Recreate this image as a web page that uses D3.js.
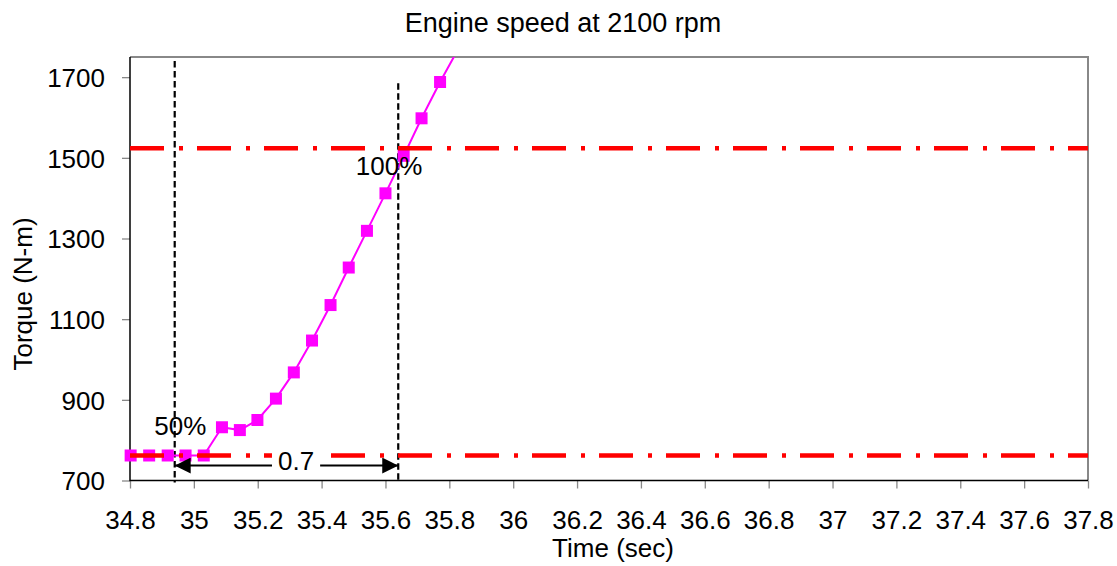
<!DOCTYPE html>
<html>
<head>
<meta charset="utf-8">
<script src="https://cdn.jsdelivr.net/npm/d3@7"></script>
<style>
  body { margin: 0; background: #fff; }
  svg text { font-family: Arial, "Liberation Sans", sans-serif; fill: #000; }
</style>
</head>
<body>
<svg id="chart" width="1117" height="566"></svg>
<script>
// Measured torque response after the step, sampled every ~0.057 s
const time = [34.802, 34.860, 34.918, 34.974, 35.031, 35.088, 35.144, 35.199, 35.257,
              35.313, 35.370, 35.428, 35.485, 35.542, 35.600, 35.657, 35.713, 35.771, 35.828];
const torque = [762, 762, 762, 762, 762, 832, 825, 850, 903,
                968, 1047, 1135, 1228, 1319, 1412, 1505, 1598, 1688, 1770];

// Axis ticks
const xTickValues = [34.8, 35, 35.2, 35.4, 35.6, 35.8, 36, 36.2, 36.4, 36.6, 36.8, 37, 37.2, 37.4, 37.6, 37.8];
const yTickValues = [700, 900, 1100, 1300, 1500, 1700];

// Reference torque levels (50 % and 100 %) and the times each is reached
const levelTorque = [762, 1524];
const levelNames = ["50%", "100%"];
const crossTime = [34.94, 35.64];
const crossTop = [1740, 1685];      // upper end of each vertical marker
const crossBottom = 695;            // lower end, just under the axis
const spanLabel = "0.7";
const spanTorque = 737;             // height of the double arrow
const spanLabelTime = 35.32;
const spanLabelTorque = 725;
const levelLabelPos = [[34.876, 813], [35.507, 1458]];

const title = "Engine speed at 2100 rpm";
const xTitle = "Time (sec)";
const yTitle = "Torque (N-m)";

const svg = d3.select("#chart");
const plot = { left: 130, right: 1088, top: 57, bottom: 480.5 };

const x = d3.scaleLinear().domain([34.8, 37.8]).range([plot.left, plot.right]);
const y = d3.scaleLinear().domain([700, 1750]).range([plot.bottom, plot.top]);

const FS = 26;

svg.append("defs").append("clipPath").attr("id", "plotClip")
  .append("rect")
  .attr("x", plot.left).attr("y", plot.top)
  .attr("width", plot.right - plot.left).attr("height", plot.bottom - plot.top);

// Title
svg.append("text")
  .attr("x", 563).attr("y", 31.5)
  .attr("text-anchor", "middle")
  .style("font-size", "27px")
  .text(title);

// Top and right frame
svg.append("path")
  .attr("d", `M${plot.left},${plot.top}H${plot.right}V${plot.bottom}`)
  .attr("fill", "none").attr("stroke", "#888").attr("stroke-width", 2);

// Y axis
const yAxis = svg.append("g")
  .attr("transform", `translate(${plot.left},0)`)
  .call(d3.axisLeft(y).tickValues(yTickValues).tickSize(8).tickPadding(17).tickFormat(d3.format("d")));
yAxis.select(".domain").remove();
yAxis.selectAll(".tick line").attr("stroke", "#888").attr("stroke-width", 1.3);
yAxis.selectAll("text").style("font-size", FS + "px").style("font-family", "Arial, 'Liberation Sans', sans-serif").attr("dy", "0.36em");

// X axis
const xAxis = svg.append("g")
  .attr("transform", `translate(0,${plot.bottom})`)
  .call(d3.axisBottom(x).tickValues(xTickValues).tickSize(8).tickPadding(22).tickFormat(d => String(+d.toFixed(1))));
xAxis.select(".domain").remove();
xAxis.selectAll(".tick line").attr("stroke", "#888").attr("stroke-width", 1.3);
xAxis.selectAll("text").style("font-size", FS + "px").style("font-family", "Arial, 'Liberation Sans', sans-serif");

// Left and bottom axis lines
svg.append("path")
  .attr("d", `M${plot.left},${plot.top}V${plot.bottom}H${plot.right}`)
  .attr("fill", "none").attr("stroke", "#000").attr("stroke-width", 1.5);

// Axis titles
svg.append("text")
  .attr("x", 613).attr("y", 557)
  .attr("text-anchor", "middle")
  .style("font-size", FS + "px")
  .text(xTitle);
svg.append("text")
  .attr("transform", `translate(32,294) rotate(-90)`)
  .attr("text-anchor", "middle")
  .style("font-size", FS + "px")
  .text(yTitle);

// Vertical markers where each level is reached
svg.append("g").selectAll("line")
  .data(crossTime)
  .join("line")
  .attr("x1", d => x(d)).attr("x2", d => x(d))
  .attr("y1", (d, i) => y(crossTop[i]))
  .attr("y2", y(crossBottom))
  .attr("stroke", "#000").attr("stroke-width", 2.2)
  .attr("stroke-dasharray", "6.5,3.5");

// Torque trace
const pts = time.map((t, i) => [t, torque[i]]);
svg.append("path")
  .datum(pts)
  .attr("clip-path", "url(#plotClip)")
  .attr("fill", "none")
  .attr("stroke", "#FF00FF")
  .attr("stroke-width", 2)
  .attr("d", d3.line().x(d => x(d[0])).y(d => y(d[1])));

const ms = 12;
svg.append("g").selectAll("rect")
  .data(pts.filter(d => d[1] <= y.domain()[1]))
  .join("rect")
  .attr("x", d => x(d[0]) - ms / 2)
  .attr("y", d => y(d[1]) - ms / 2)
  .attr("width", ms).attr("height", ms)
  .attr("fill", "#FF00FF");

// Level lines (dash-dot)
svg.append("g").selectAll("line")
  .data(levelTorque)
  .join("line")
  .attr("x1", plot.left).attr("x2", plot.right)
  .attr("y1", d => y(d)).attr("y2", d => y(d))
  .attr("stroke", "#FF0000").attr("stroke-width", 4.5)
  .attr("stroke-dasharray", "34,15,4,14");

// Double arrow spanning the response time
const defs = svg.select("defs");
defs.append("marker")
  .attr("id", "arrowEnd")
  .attr("viewBox", "0 0 16 16")
  .attr("refX", 16).attr("refY", 8)
  .attr("markerWidth", 16).attr("markerHeight", 16)
  .attr("markerUnits", "userSpaceOnUse")
  .attr("orient", "auto-start-reverse")
  .append("path").attr("d", "M0,0L16,8L0,16Z").attr("fill", "#000");

svg.append("line")
  .attr("x1", x(crossTime[0])).attr("x2", x(crossTime[1]))
  .attr("y1", y(spanTorque)).attr("y2", y(spanTorque))
  .attr("stroke", "#000").attr("stroke-width", 2)
  .attr("marker-start", "url(#arrowEnd)")
  .attr("marker-end", "url(#arrowEnd)");

const spanG = svg.append("g");
const spanBg = spanG.append("rect").attr("fill", "#fff");
const spanText = spanG.append("text")
  .attr("x", x(spanLabelTime)).attr("y", y(spanLabelTorque) - 0.5)
  .attr("text-anchor", "middle")
  .style("font-size", FS + "px")
  .text(spanLabel);
const bb = spanText.node().getBBox();
spanBg.attr("x", bb.x - 6).attr("y", bb.y + 2).attr("width", bb.width + 12).attr("height", bb.height - 4);

// Level labels
svg.append("g").selectAll("text")
  .data(levelNames)
  .join("text")
  .attr("x", (d, i) => x(levelLabelPos[i][0]))
  .attr("y", (d, i) => y(levelLabelPos[i][1]))
  .style("font-size", FS + "px")
  .text(d => d);
</script>
</body>
</html>
